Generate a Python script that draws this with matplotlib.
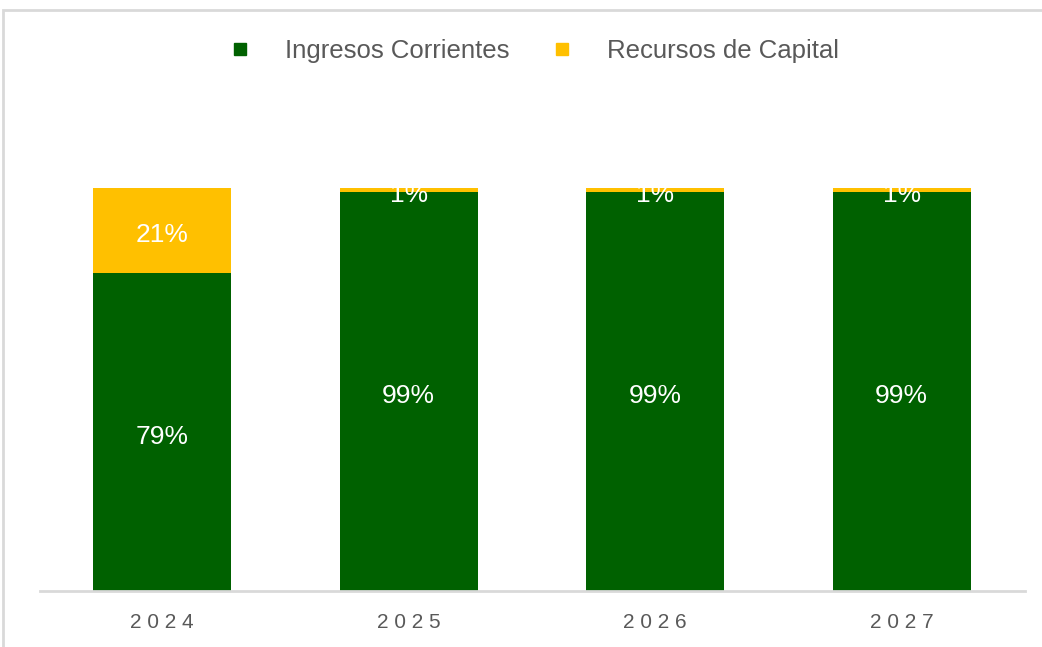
# participacion.py
#   composicion de ingresos por vigencia (barras apiladas al 100%)

import matplotlib
matplotlib.use("Agg")
from matplotlib import pyplot as plt
from matplotlib.lines import Line2D
from matplotlib.patches import Rectangle

# data
years = ["2024", "2025", "2026", "2027"]
corrientes = [79, 99, 99, 99]
capital = [21, 1, 1, 1]

GREEN = "#006100"
YELLOW = "#FFC000"
GRAY = "#595959"
LINE = "#D9D9D9"

plt.rcParams["font.family"] = ["Liberation Sans", "DejaVu Sans"]

# figure + axes
W, H = 1042, 647
fig = plt.figure(figsize=(W / 100, H / 100), dpi=100)
ax = fig.add_axes([40 / W, (H - 591) / H, (1025 - 40) / W, (591 - 188) / H])

x = list(range(len(years)))
ax.bar(x, corrientes, width=0.56, color=GREEN, zorder=2)
ax.bar(x, capital, width=0.56, bottom=corrientes, color=YELLOW, zorder=2)

# white value labels in the middle of each segment
def label(xi, yi, txt):
    ax.annotate(txt, (xi, yi), xytext=(0, -3.5), textcoords="offset points",
                ha="center", va="center", color="white", fontsize=19, zorder=3)

for i in x:
    label(i, corrientes[i] / 2, f"{corrientes[i]}%")
    label(i, corrientes[i] + capital[i] / 2, f"{capital[i]}%")

ax.set_xlim(-0.495, 3.5)
ax.set_ylim(0, 100)
ax.set_yticks([])
ax.set_xticks(x)
ax.set_xticklabels([" ".join(y) for y in years], color=GRAY, fontsize=15)
ax.tick_params(axis="x", length=0, pad=16)
for s in ["top", "right", "left"]:
    ax.spines[s].set_visible(False)
ax.spines["bottom"].set_color(LINE)
ax.spines["bottom"].set_linewidth(2)

# legend on top
handles = [
    Line2D([], [], marker="s", linestyle="", color=GREEN, markersize=8),
    Line2D([], [], marker="s", linestyle="", color=YELLOW, markersize=8),
]
fig.legend(handles, ["Ingresos Corrientes", "Recursos de Capital"], loc="center",
           bbox_to_anchor=(527 / W, 1 - 51 / H), ncol=2, frameon=False,
           fontsize=18.5, labelcolor=GRAY, handletextpad=0.75, columnspacing=1.05)

# chart border (top and left edges)
fig.add_artist(Rectangle((3 / W, -0.1), 1.2, 1 - 10 / H + 0.1, transform=fig.transFigure,
                         fill=False, edgecolor=LINE, linewidth=2))

fig.savefig("out.png", dpi=100)
